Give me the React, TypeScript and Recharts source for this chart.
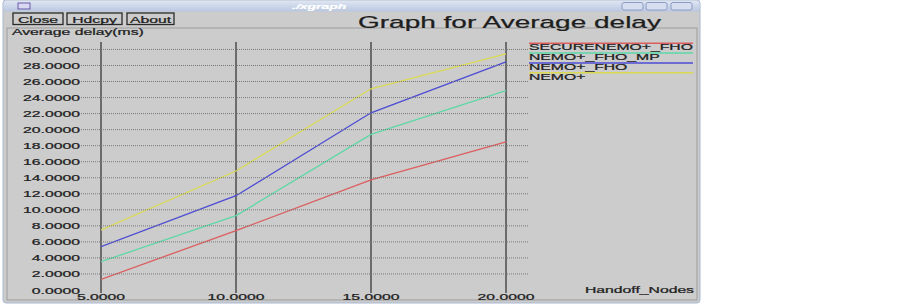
import React from "react";
import { LineChart, Line, XAxis, YAxis, CartesianGrid } from "recharts";

// handoff nodes (x) and average delay in ms per protocol
const handoffNodes = [5, 10, 15, 20];
const secureNemoFho = [1.33, 7.4, 13.72, 18.46];
const nemoFhoMp = [3.53, 9.27, 19.4, 24.86];
const nemoFho = [5.4, 11.76, 22.1, 28.44];
const nemoPlus = [7.48, 14.84, 25.1, 29.44];

const seriesNames = ["SECURENEMO+_FHO", "NEMO+_FHO_MP", "NEMO+_FHO", "NEMO+"];
const seriesColors = ["#dc5e5e", "#5ed8a6", "#4c4cd4", "#dada52"];
const seriesValues = [secureNemoFho, nemoFhoMp, nemoFho, nemoPlus];

const xTicks = [5, 10, 15, 20];
const yTicks = [0, 2, 4, 6, 8, 10, 12, 14, 16, 18, 20, 22, 24, 26, 28, 30];

const data = handoffNodes.map((x, i) => {
  const row: Record<string, number> = { x };
  seriesValues.forEach((vals, s) => {
    row["s" + s] = vals[i];
  });
  return row;
});

const FONT = "'Liberation Sans', Arial, Helvetica, sans-serif";
const SX = 1.75; // the screenshot is stretched sideways
const BG = "#cccccc";
const PLOT_RIGHT = 528;

const T = ({
  x,
  y,
  size = 9,
  anchor = "start",
  children,
  fill = "#1e1e1e",
  style,
}: {
  x: number;
  y: number;
  size?: number;
  anchor?: "start" | "middle" | "end";
  children: React.ReactNode;
  fill?: string;
  style?: React.CSSProperties;
}) => (
  <text
    transform={`translate(${x},${y}) scale(${SX},1)`}
    textAnchor={anchor}
    fontSize={size}
    fontFamily={FONT}
    fill={fill}
    stroke={fill}
    strokeWidth={0.25}
    style={style}
  >
    {children}
  </text>
);

const YTick = (props: any) => {
  const { x, y, payload } = props;
  return (
    <g>
      {payload.value !== 0 && (
        <line
          x1={x + 1}
          x2={PLOT_RIGHT}
          y1={y}
          y2={y}
          stroke="#7a7a7a"
          strokeDasharray="1 1"
        />
      )}
      <T x={x} y={y + 3.5} anchor="end">
        {payload.value.toFixed(4)}
      </T>
    </g>
  );
};

const XTick = (props: any) => {
  const { x, y, payload } = props;
  return (
    <T x={x} y={y + 7} anchor="middle">
      {payload.value.toFixed(4)}
    </T>
  );
};

const LegendBox = ({ x, y }: { x: number; y: number }) => (
  <g>
    {seriesNames.map((name, i) => {
      const ly = y + i * 9.8;
      return (
        <g key={name}>
          <line x1={x} x2={x + 164} y1={ly} y2={ly} stroke={seriesColors[i]} strokeWidth={1.5} />
          <T x={x} y={ly + 6.8}>
            {name}
          </T>
        </g>
      );
    })}
  </g>
);

const Button = ({ x, w, label }: { x: number; w: number; label: string }) => (
  <g>
    <rect x={x} y={13} width={w} height={11.5} fill={BG} stroke="#2a2a2a" strokeWidth={1.3} />
    <T x={x + w / 2} y={22.5} anchor="middle">
      {label}
    </T>
  </g>
);

const Chrome = () => (
  <svg width={903} height={304} style={{ position: "absolute", left: 0, top: 0 }}>
    <defs>
      <linearGradient id="tb" x1="0" y1="0" x2="0" y2="1">
        <stop offset="0" stopColor="#dfe6f3" />
        <stop offset="1" stopColor="#b9c7e0" />
      </linearGradient>
    </defs>
    <rect x={0} y={0} width={903} height={304} fill="#ffffff" />
    <rect x={3} y={0} width={697} height={303} fill={BG} stroke="#a9b8d2" strokeWidth={1} rx={3} />
    <rect x={3.5} y={0.5} width={696} height={11} fill="url(#tb)" rx={3} />
    <rect x={18} y={3} width={12} height={6} fill="#d8d8f0" stroke="#6a5aa8" strokeWidth={1} />
    <T x={292} y={8.5} size={8} fill="#ffffff" style={{ fontStyle: "italic", fontWeight: 700 }}>
      ./xgraph
    </T>
    {[622, 646, 671].map((bx) => (
      <rect key={bx} x={bx} y={2.5} width={21} height={7.5} rx={2} fill="#d6def0" stroke="#8c9cc4" />
    ))}
    <rect x={7} y={28} width={690} height={272} fill="none" stroke="#9c9c9c" />
    <Button x={13} w={50} label="Close" />
    <Button x={67} w={55} label="Hdcpy" />
    <Button x={127} w={47} label="About" />
    <T x={358} y={28} size={16}>
      Graph for Average delay
    </T>
    <T x={12} y={35}>
      Average delay(ms)
    </T>
    <T x={694} y={293} anchor="end">
      Handoff_Nodes
    </T>
    <LegendBox x={529} y={43.3} />
  </svg>
);

export default function App() {
  return (
    <div style={{ position: "absolute", left: 0, top: 0, width: 903, height: 304 }}>
      <Chrome />
      <div style={{ position: "absolute", left: 0, top: 0 }}>
        <LineChart
          width={903}
          height={304}
          data={data}
          margin={{ top: 42, right: 903 - PLOT_RIGHT, bottom: 0, left: 6 }}
        >
          <CartesianGrid
            horizontal={false}
            verticalValues={xTicks}
            stroke="#6c6c6c"
            strokeWidth={2}
          />
          <XAxis
            dataKey="x"
            type="number"
            domain={[5, 20.815]}
            ticks={xTicks}
            interval={0}
            allowDataOverflow
            axisLine={false}
            tickLine={{ stroke: "#6c6c6c", strokeWidth: 2 }}
            tickSize={3}
            tickMargin={0}
            height={14}
            tick={<XTick />}
          />
          <YAxis
            type="number"
            domain={[0, 30.93]}
            ticks={yTicks}
            interval={0}
            allowDataOverflow
            axisLine={false}
            tickLine={false}
            tickSize={0}
            tickMargin={21}
            width={95}
            tick={<YTick />}
          />
          {seriesNames.map((name, i) => (
            <Line
              key={name}
              name={name}
              dataKey={"s" + i}
              type="linear"
              stroke={seriesColors[i]}
              strokeWidth={1.3}
              dot={false}
              isAnimationActive={false}
            />
          ))}
        </LineChart>
      </div>
    </div>
  );
}
